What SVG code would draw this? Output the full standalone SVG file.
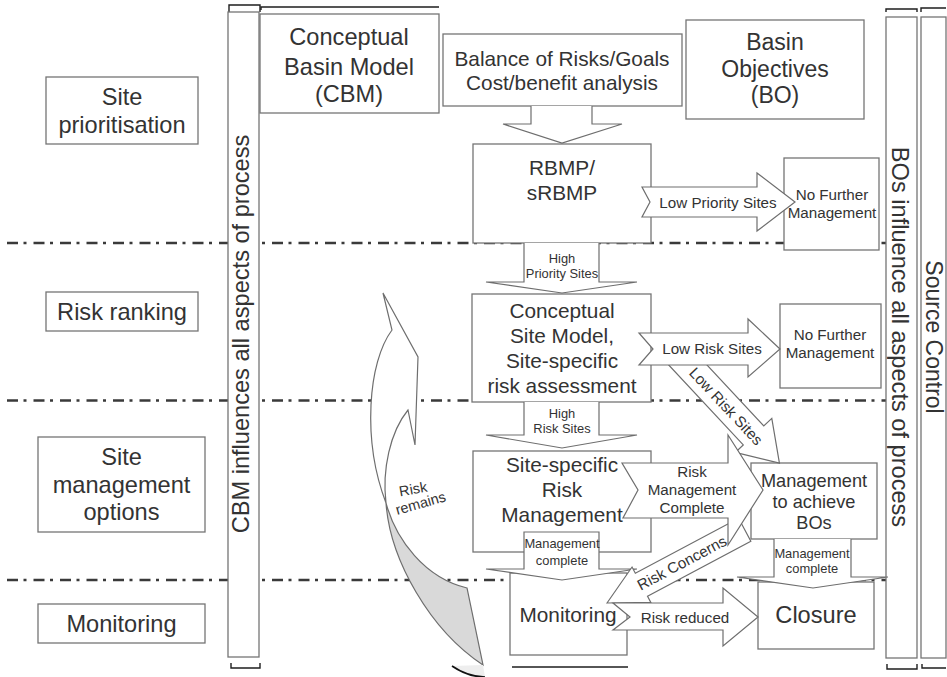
<svg xmlns="http://www.w3.org/2000/svg" width="947" height="677" viewBox="0 0 947 677">
  <style>
    .box { fill: #fff; stroke: #757575; stroke-width: 1.3; }
    .arr { fill: #fff; stroke: #6e6e6e; stroke-width: 1.2; stroke-linejoin: miter; }
    .sep { fill: none; stroke: #3a3a3a; stroke-width: 2.6; stroke-dasharray: 11 5.5 3 7; }
    .brk { fill: none; stroke: #1e1e1e; stroke-width: 1.4; }
    .t { font-family: "Liberation Sans", Arial, Helvetica, sans-serif; fill: #333; text-anchor: middle; }
    .s24 { font-size: 23.6px; }
    .s23 { font-size: 23px; }
    .s21 { font-size: 20.8px; }
    .s18 { font-size: 18.2px; }
    .s15 { font-size: 15.2px; }
    .s14 { font-size: 14.5px; }
    .s13 { font-size: 12.9px; }
  </style>

  <rect width="947" height="677" fill="#fff"/>

  <!-- stage separators (dash-dot) -->
  <g id="separators">
    <line class="sep" x1="7" y1="243" x2="886" y2="243"/>
    <line class="sep" x1="7" y1="400.5" x2="886" y2="400.5"/>
    <line class="sep" x1="7" y1="580" x2="886" y2="580"/>
  </g>

  <!-- stage labels -->
  <g id="stage-prioritisation">
    <rect class="box" x="46" y="77" width="152" height="67"/>
    <text class="t s24" x="122" y="105">Site</text>
    <text class="t s24" x="122" y="133">prioritisation</text>
  </g>
  <g id="stage-ranking">
    <rect class="box" x="46" y="292" width="152" height="39"/>
    <text class="t s24" x="122" y="320">Risk ranking</text>
  </g>
  <g id="stage-options">
    <rect class="box" x="38" y="437" width="167" height="95"/>
    <text class="t s24" x="121.5" y="465">Site</text>
    <text class="t s24" x="121.5" y="493">management</text>
    <text class="t s24" x="121.5" y="520">options</text>
  </g>
  <g id="stage-monitoring">
    <rect class="box" x="38" y="604" width="167" height="39"/>
    <text class="t s24" x="121.5" y="632">Monitoring</text>
  </g>

  <!-- side bars -->
  <g id="cbm-bar">
    <path class="brk" d="M229,12 V5 H260 V12"/>
    <path class="brk" d="M261,10 V7 H439"/>
    <rect class="box" x="228" y="12" width="31" height="645"/>
    <text class="t s24" transform="translate(249,334) rotate(-90)">CBM influences all aspects of process</text>
    <path class="brk" d="M231,663 V668 H260 V663"/>
  </g>
  <g id="bos-bar">
    <path class="brk" d="M886,12 V9 H917 V12"/>
    <rect class="box" x="886" y="17" width="31" height="641"/>
    <text class="t s24" transform="translate(892,337) rotate(90)">BOs influence all aspects of process</text>
    <path class="brk" d="M887,664 V669 H917 V664"/>
  </g>
  <g id="source-bar">
    <path class="brk" d="M921,12 V8 H946"/>
    <rect class="box" x="921" y="17" width="25" height="641"/>
    <text class="t s23" transform="translate(926,337) rotate(90)">Source Control</text>
    <path class="brk" d="M922,664 V668 H946"/>
  </g>

  <!-- top row -->
  <g id="cbm">
    <rect class="box" x="260" y="14" width="179" height="99"/>
    <text class="t s24" x="349" y="45">Conceptual</text>
    <text class="t s24" x="349" y="75">Basin Model</text>
    <text class="t s24" x="349" y="102">(CBM)</text>
  </g>
  <g id="balance">
    <rect class="box" x="443" y="34" width="239" height="72"/>
    <text class="t s21" x="562" y="66">Balance of Risks/Goals</text>
    <text class="t s21" x="562" y="90">Cost/benefit analysis</text>
  </g>
  <g id="basin-objectives">
    <rect class="box" x="686" y="20" width="178" height="99"/>
    <text class="t s23" x="775" y="50">Basin</text>
    <text class="t s23" x="775" y="77">Objectives</text>
    <text class="t s23" x="775" y="103">(BO)</text>
  </g>

  <!-- process nodes -->
  <g id="rbmp">
    <rect class="box" x="473" y="144" width="178" height="99"/>
    <text class="t s21" x="562" y="175">RBMP/</text>
    <text class="t s21" x="562" y="200">sRBMP</text>
  </g>
  <g id="no-further-1">
    <rect class="box" x="784" y="158" width="95" height="92"/>
    <text class="t s15" x="832" y="200">No Further</text>
    <text class="t s15" x="832" y="218">Management</text>
  </g>
  <g id="csm">
    <rect class="box" x="472" y="294" width="179" height="108"/>
    <text class="t s21" x="562" y="318">Conceptual</text>
    <text class="t s21" x="562" y="343">Site Model,</text>
    <text class="t s21" x="562" y="368">Site-specific</text>
    <text class="t s21" x="562" y="393">risk assessment</text>
  </g>
  <g id="no-further-2">
    <rect class="box" x="780" y="304" width="101" height="84"/>
    <text class="t s15" x="830" y="340">No Further</text>
    <text class="t s15" x="830" y="358">Management</text>
  </g>
  <g id="risk-management">
    <rect class="box" x="473" y="451" width="178" height="101"/>
    <text class="t s21" x="562" y="472">Site-specific</text>
    <text class="t s21" x="562" y="497">Risk</text>
    <text class="t s21" x="562" y="522">Management</text>
  </g>
  <g id="achieve-bos">
    <rect class="box" x="751" y="463" width="126" height="76"/>
    <text class="t s18" x="814" y="487">Management</text>
    <text class="t s18" x="814" y="508">to achieve</text>
    <text class="t s18" x="814" y="529">BOs</text>
  </g>
  <g id="monitoring">
    <rect class="box" x="510" y="573" width="117" height="82"/>
    <line class="brk" x1="512" y1="667" x2="628" y2="667" stroke-width="1"/>
  </g>
  <g id="closure">
    <rect class="box" x="758" y="582" width="116" height="67"/>
    <text class="t s24" x="816" y="623">Closure</text>
  </g>

  <!-- block-arrow connectors -->
  <g id="connectors">
    <path class="arr" d="M531,106 V124 H503 L562,143 L622,124 H592 V106"/>

    <polygon class="arr" points="642,187 757,187 757,173 795,202 757,231 757,217 642,217 650,202"/>
    <text class="t s15" x="718" y="208">Low Priority Sites</text>

    <path class="arr" d="M524,243 V282 H486 L562,293 L637,282 H599 V243"/>
    <text class="t s13" x="562" y="263">High</text>
    <text class="t s13" x="562" y="278">Priority Sites</text>

    <g transform="translate(686,363) rotate(47)">
      <polygon class="arr" points="-22,-14 99,-14 99,-25 137,0 99,25 99,14 -22,14"/>
      <text class="t s15" x="59" y="5.5">Low Risk Sites</text>
    </g>

    <polygon class="arr" points="639,333 748,333 748,319 780,349 748,377 748,365 639,365 653,349"/>
    <text class="t s15" x="712" y="354">Low Risk Sites</text>

    <path class="arr" d="M524,402 V435 H486 L562,448 L637,435 H599 V402"/>
    <text class="t s13" x="562" y="418">High</text>
    <text class="t s13" x="562" y="433">Risk Sites</text>

    <path class="arr" d="M524,532 H599 V569 H637 L562,580 L486,569 H524 Z"/>
    <text class="t s13" x="562" y="548">Management</text>
    <text class="t s13" x="562" y="565">complete</text>

    <g transform="translate(607,603) rotate(-28)">
      <polygon class="arr" points="0,0 39,-20 39,-13 156,-13 156,13 39,13 39,20"/>
      <text class="t s15" x="85" y="5">Risk Concerns</text>
    </g>

    <polygon class="arr" points="622,463 728,463 728,435 763,490 728,545 728,518 623,518 638,490"/>
    <text class="t s15" x="692" y="477">Risk</text>
    <text class="t s15" x="692" y="495">Management</text>
    <text class="t s15" x="692" y="513">Complete</text>

    <path class="arr" d="M774,539 V577 H737 L813,588 L888,577 H851 V539"/>
    <text class="t s13" x="812" y="558">Management</text>
    <text class="t s13" x="812" y="573">complete</text>

    <polygon class="arr" points="613,603 723,603 723,588 758,617 723,646 723,630 613,630 630,617"/>
    <text class="t s15" x="685" y="623">Risk reduced</text>

    <!-- twisted return arrow: shaded back face below the twist, white front face above -->
    <path d="M386,503 C390,560 430,630 483,665 L467,588 C425,578 396,540 386,503 Z" fill="#d9d9d9" stroke="#6e6e6e" stroke-width="1.2"/>
    <path class="arr" d="M383,293 L418,357 L415,445 L408,410 C390,432 382,470 386,503 C362,440 368,362 392,330 Z"/>
    <path d="M452,666 Q468,677 485,677 L483,665 Z" fill="#eeeeee" stroke="none"/>
    <path d="M452,666 Q468,677 485,677" fill="none" stroke="#111" stroke-width="1.6"/>
    <text class="t s14" transform="translate(414,494) rotate(-10)">Risk</text>
    <text class="t s14" transform="translate(422,508) rotate(-16)">remains</text>
  </g>

  <!-- centre monitoring label sits above the arrow tails -->
  <text class="t s21" x="568" y="622">Monitoring</text>
</svg>
